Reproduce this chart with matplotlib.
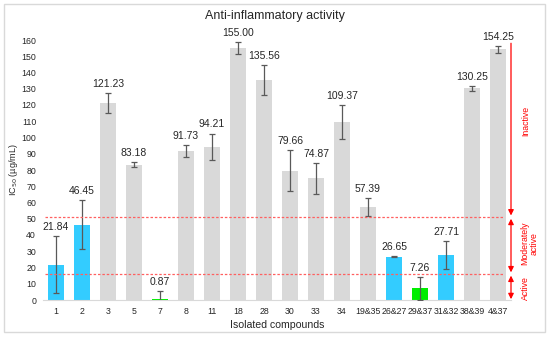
import matplotlib
matplotlib.use("Agg")
import matplotlib.pyplot as plt
from matplotlib.patches import Rectangle

# data
compounds = ["1", "2", "3", "5", "7", "8", "11", "18", "28", "30", "33", "34",
             "19&35", "26&27", "29&37", "31&32", "38&39", "4&37"]
ic50 = [21.84, 46.45, 121.23, 83.18, 0.87, 91.73, 94.21, 155.00, 135.56, 79.66,
        74.87, 109.37, 57.39, 26.65, 7.26, 27.71, 130.25, 154.25]
err = [17.5, 15.0, 6.0, 1.5, 4.5, 3.5, 8.2, 3.8, 9.1, 12.8,
       9.5, 10.5, 5.4, 0.3, 7.0, 8.8, 1.5, 2.0]
activity = ["m", "m", "i", "i", "a", "i", "i", "i", "i", "i",
            "i", "i", "i", "m", "a", "m", "i", "i"]
upper_limit = 51
lower_limit = 16

colors = {"i": "#d9d9d9", "m": "#33ccff", "a": "#00ee00"}
red = "#ff0000"
plt.rcParams["font.family"] = ["Liberation Sans", "DejaVu Sans"]

fig = plt.figure(figsize=(5.5, 3.38), dpi=100)
fig.patches.append(Rectangle((4 / 550, 6 / 338), 541 / 550, 328 / 338,
                             transform=fig.transFigure, fill=False,
                             edgecolor="#d9d9d9", linewidth=1))

ax = fig.add_axes([43 / 550, 38 / 338, 468 / 550, 260 / 338])
x = list(range(len(compounds)))
ax.bar(x, ic50, width=0.58, color=[colors[a] for a in activity], zorder=2)
ax.errorbar(x, ic50, yerr=err, fmt="none", ecolor="#595959", elinewidth=0.9,
            capsize=2.2, capthick=0.9, zorder=3)

for xi, v, e in zip(x, ic50, err):
    ax.annotate(f"{v:.2f}", (xi, v + e), xytext=(0, 3), textcoords="offset points",
                ha="center", va="bottom", fontsize=7.5, color="#262626")

ax.set_xlim(-0.5, 17.5)
ax.set_ylim(0, 160)
ax.set_yticks(range(0, 161, 10))
ax.set_xticks(x)
ax.set_xticklabels(compounds)
ax.tick_params(axis="both", length=0, labelsize=6.3, colors="#262626", pad=5)
for s in ["top", "right", "left"]:
    ax.spines[s].set_visible(False)
ax.spines["bottom"].set_color("#d9d9d9")

ax.set_ylabel("IC$_{50}$ (µg/mL)", fontsize=6.5, color="#262626")
ax.yaxis.set_label_coords(-23 / 468, 0.5)
ax.set_xlabel("Isolated compounds", fontsize=7.6, color="#262626", labelpad=3)
fig.text(0.5, 0.953, "Anti-inflammatory activity", ha="center", va="center",
         fontsize=9, color="#262626")

for lim in [upper_limit, lower_limit]:
    ax.axhline(lim, xmin=0.005, xmax=0.985, color="#ff6060", linestyle=(0, (2, 1.5)),
               linewidth=0.9, zorder=4)

# activity zone arrows on the right
ax_x = 17.5
arrow = dict(arrowstyle="-|>", color=red, lw=0.9, mutation_scale=8, shrinkA=0, shrinkB=0)
darrow = dict(arrowstyle="<|-|>", color=red, lw=0.9, mutation_scale=8, shrinkA=0, shrinkB=0)
ax.annotate("", xy=(ax_x, upper_limit + 1), xytext=(ax_x, 158), arrowprops=arrow,
            annotation_clip=False)
ax.annotate("", xy=(ax_x, lower_limit + 1), xytext=(ax_x, upper_limit - 1),
            arrowprops=darrow, annotation_clip=False)
ax.annotate("", xy=(ax_x, 0.5), xytext=(ax_x, lower_limit - 1),
            arrowprops=darrow, annotation_clip=False)

ax.text(18.05, 110, "Inactive", rotation=90, ha="center", va="center",
        fontsize=6.3, color=red, clip_on=False)
ax.text(18.2, 35, "Moderately\nactive", rotation=90, ha="center", va="center",
        fontsize=6.3, color=red, clip_on=False, linespacing=1.0)
ax.text(18.05, 7.5, "Active", rotation=90, ha="center", va="center",
        fontsize=6.3, color=red, clip_on=False)

fig.savefig("out.png", dpi=100)
